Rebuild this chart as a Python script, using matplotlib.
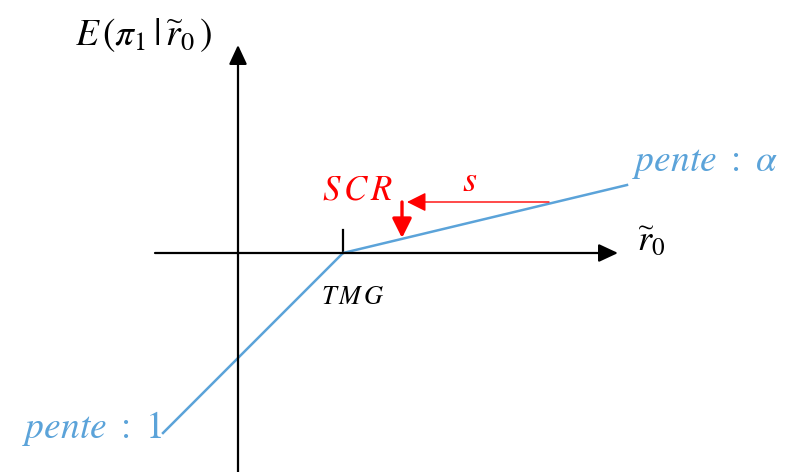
import matplotlib
matplotlib.use("Agg")
import matplotlib.pyplot as plt

plt.rcParams["mathtext.fontset"] = "stix"

# diagram units: 1 unit ~ 1 px, origin where the two axes cross
tmg = 105
curve_x = [-75, tmg, 389]
curve_y = [-180, 0, 68]

x_axis = (-83, 380)
y_axis = (-219, 208)

s_arrow = ((311, 51), (169, 51))
scr_arrow = ((164, 51), (164, 15))

blue = "#5BA3D9"
red = "#FF0000"

fig = plt.figure(figsize=(7.85, 4.72), dpi=100)
ax = fig.add_axes([0, 0, 1, 1])
ax.set_xlim(-238, 547)
ax.set_ylim(-219, 253)
ax.axis("off")


def arrow(start, end, color, lw, hw=0.42):
    ax.annotate("", xy=end, xytext=start,
                arrowprops=dict(arrowstyle=f"-|>,head_length=0.9,head_width={hw}",
                                color=color, lw=lw, shrinkA=0, shrinkB=0,
                                mutation_scale=13))


# axes with arrow heads
arrow((x_axis[0], 0), (x_axis[1], 0), "black", 1.6)
arrow((0, y_axis[0]), (0, y_axis[1]), "black", 1.6)
ax.plot([tmg, tmg], [0, 23], color="black", lw=1.6)

ax.plot(curve_x, curve_y, color=blue, lw=1.8, solid_joinstyle="round")

# s and SCR arrows
arrow(*s_arrow, red, 1.0, hw=0.45)
arrow(*scr_arrow, red, 2.4, hw=0.45)

# labels
ax.text(-163, 218, r"$E\,(\pi_1\,|\,\widetilde{r}_0\,)$", fontsize=27, ha="left", va="center")
ax.text(399, 13, r"$\widetilde{r}_0$", fontsize=26, ha="left", va="center")
ax.text(115, -44, r"$T\,M\,G$", fontsize=19, ha="center", va="center")
ax.text(120, 63, r"$S\,C\,R$", fontsize=25, color=red, ha="center", va="center")
ax.text(232, 72, r"$s$", fontsize=26, color=red, ha="center", va="center")
ax.text(394, 90, r"$pente\ :\ \alpha$", fontsize=27, color=blue, ha="left", va="center")
ax.text(-216, -175, r"$pente\ :\ 1$", fontsize=27, color=blue, ha="left", va="center")

fig.savefig("out.png", dpi=100)
